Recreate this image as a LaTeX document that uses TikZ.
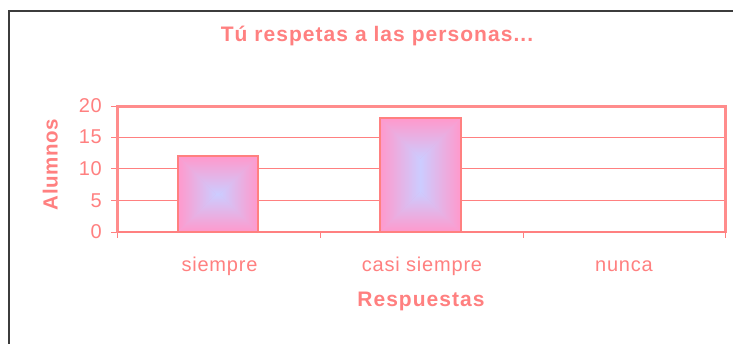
\documentclass[tikz,border=0pt]{standalone}
\usepackage{fontspec}
\setmainfont{Liberation Sans}
\newfontfamily\boldls[LetterSpace=5]{Liberation Sans Bold}
\newfontfamily\boldlsb[LetterSpace=3]{Liberation Sans Bold}
\newfontfamily\regls[LetterSpace=4]{Liberation Sans}
\definecolor{salmon}{RGB}{255,128,128}
\definecolor{plotedge}{RGB}{255,140,140}
\definecolor{barpink}{RGB}{255,153,204}
\definecolor{barlav}{RGB}{204,204,255}
\definecolor{barmid}{RGB}{230,178,230}
\definecolor{frame}{RGB}{60,60,60}
\tikzset{
  ttl/.style={text=salmon,font=\boldls\fontsize{21}{24}\selectfont,inner sep=0pt},
  ttlb/.style={text=salmon,font=\boldlsb\fontsize{20.5}{24}\selectfont,inner sep=0pt},
  lbl/.style={text=salmon,font=\regls\fontsize{20}{24}\selectfont,inner sep=0pt},
  grid/.style={draw=salmon,line width=1.3pt},
  tickln/.style={draw=salmon,line width=1pt},
  baredge/.style={draw=salmon,line width=2pt}
}
\newcommand\gradbar[4]{%
  \pgfmathsetmacro\dd{min(#3-#1,#4-#2)/2}%
  \fill[barmid] (#1,#2) rectangle (#3,#4);
  \begin{scope}
    \clip (#1,#2) -- ({#1+\dd},{#2+\dd}) -- ({#1+\dd},{#4-\dd}) -- (#1,#4) -- cycle;
    \shade[left color=barpink,right color=barlav] (#1,#2) rectangle ({#1+\dd},#4);
  \end{scope}
  \begin{scope}
    \clip (#3,#2) -- ({#3-\dd},{#2+\dd}) -- ({#3-\dd},{#4-\dd}) -- (#3,#4) -- cycle;
    \shade[left color=barlav,right color=barpink] ({#3-\dd},#2) rectangle (#3,#4);
  \end{scope}
  \begin{scope}
    \clip (#1,#2) -- (#3,#2) -- ({#3-\dd},{#2+\dd}) -- ({#1+\dd},{#2+\dd}) -- cycle;
    \shade[top color=barpink,bottom color=barlav] (#1,#2) rectangle (#3,{#2+\dd});
  \end{scope}
  \begin{scope}
    \clip (#1,#4) -- (#3,#4) -- ({#3-\dd},{#4-\dd}) -- ({#1+\dd},{#4-\dd}) -- cycle;
    \shade[top color=barlav,bottom color=barpink] (#1,{#4-\dd}) rectangle (#3,#4);
  \end{scope}
  \draw[baredge] (#1,#2) rectangle (#3,#4);
}
\begin{document}
\begin{tikzpicture}[x=1pt,y=-1pt]
\useasboundingbox (0,0) rectangle (733,343);
\fill[white] (0,0) rectangle (733,343);
% outer frame
\coordinate (fbl) at (9,345);
\coordinate (ftl) at (9,10.8);
\coordinate (ftr) at (735,10.8);
\draw[frame,line width=2pt] (fbl) -- (ftl) -- (ftr);
% title
\node[ttl,anchor=base] (title) at (377,41.5) {Tú respetas a las personas...};
% gridlines
\foreach \v/\yy in {5/200.4,10/168.8,15/137.2}{
  \coordinate (gl\v) at (111,\yy);
  \coordinate (gr\v) at (725.5,\yy);
  \draw[grid] (gl\v) -- (gr\v);
}
% ticks
\coordinate (t0) at (111,232);
\coordinate (t20) at (111,106);
\draw[tickln] (t0) -- (117.5,232);
\draw[tickln] (t20) -- (117.5,106);
\foreach \xx in {117.5,320,523,725.5}{
  \draw[tickln] (\xx,232) -- (\xx,237.5);
}
% plot border
\draw[draw=plotedge,line width=2.2pt] (117.5,106.5) rectangle (725.5,232);
% bars
\gradbar{178}{156.2}{257.5}{232}
\gradbar{380}{118.3}{460.5}{232}
\draw[draw=salmon,line width=1.6pt] (117.5,232) -- (725.5,232);
% y labels
\foreach \v/\yy in {0/232,5/200.4,10/168.8,15/137.2,20/105.6}{
  \node[lbl,anchor=east] (y\v) at (102,\yy) {\v};
}
% category labels
\node[lbl,anchor=base] (c1) at (219.5,271.5) {siempre};
\node[lbl,anchor=base] (c2) at (422,271.5) {casi siempre};
\node[lbl,anchor=base] (c3) at (624,271.5) {nunca};
% axis titles
\node[ttl,anchor=base] (xt) at (421,306.5) {Respuestas};
\node[ttlb,anchor=base,rotate=90] (yt) at (57.5,164.5) {Alumnos};
\end{tikzpicture}
\end{document}
